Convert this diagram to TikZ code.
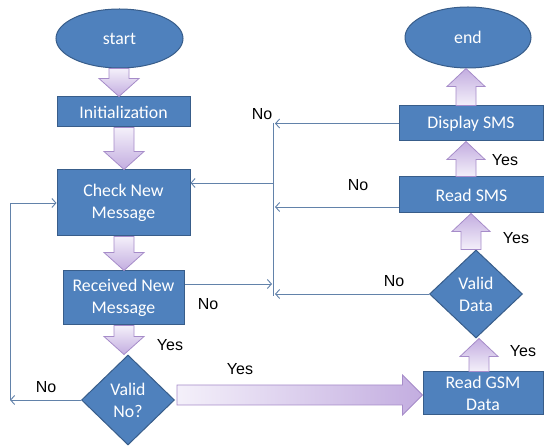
\documentclass[tikz,border=0pt]{standalone}
\usepackage{fontspec}
\setmainfont{Carlito}
\newfontfamily\labfont{Liberation Sans}
\usetikzlibrary{shapes.geometric,arrows.meta,calc}
\definecolor{boxF}{HTML}{4F81BD}
\definecolor{boxD}{HTML}{385D8A}
\definecolor{blkL}{HTML}{F4F0FA}
\definecolor{blkD}{HTML}{C3ADE0}
\definecolor{blkB}{HTML}{A68CC9}
\definecolor{lineC}{HTML}{6282AA}
\tikzset{
  box/.style={rectangle,fill=boxF,draw=boxD,line width=1pt,text=white,align=center,inner sep=0pt,
    font=\fontsize{17.8}{22}\selectfont},
  oval/.style={ellipse,fill=boxF,draw=boxD,line width=1pt,text=white,inner sep=0pt,
    font=\fontsize{17.8}{22}\selectfont},
  dia/.style={diamond,fill=boxF,draw=boxD,line width=1pt,text=white,align=center,inner sep=0pt,
    font=\fontsize{17.8}{22}\selectfont},
  blk/.style={draw=blkB,line width=0.8pt,line join=miter},
  conn/.style={draw=lineC,line width=0.9pt,-{Straight Barb[length=4pt,width=9pt]}},
  plain/.style={draw=lineC,line width=0.9pt},
  lab/.style={font=\labfont\fontsize{16}{18}\selectfont,inner sep=0pt}
}
\newcommand\dnblk[3]{%
  \shadedraw[blk,top color=blkL,bottom color=blkD] let \p1=(#2), \p2=(#3) in
   (#1-10,\y1) -- (#1+10,\y1) -- (#1+10,\y2+18pt) -- (#1+20,\y2+18pt) -- (#1,\y2)
   -- (#1-20,\y2+18pt) -- (#1-10,\y2+18pt) -- cycle;}
\newcommand\upblk[3]{%
  \shadedraw[blk,top color=blkD,bottom color=blkL] let \p1=(#2), \p2=(#3) in
   (#1-10,\y1) -- (#1+10,\y1) -- (#1+10,\y2-18pt) -- (#1+19,\y2-18pt) -- (#1,\y2)
   -- (#1-19,\y2-18pt) -- (#1-10,\y2-18pt) -- cycle;}
\begin{document}
\begin{tikzpicture}[x=1pt,y=-1pt]
\useasboundingbox (0,0) rectangle (544,446);
% nodes
\node[oval,minimum width=127pt,minimum height=59pt] (start) at (119.5,38.5) {start};
\node[box,minimum width=133pt,minimum height=30pt] (init) at (123.5,112) {Initialization};
\node[box,minimum width=133pt,minimum height=66pt] (check) at (123.5,203) {Check New\\Message};
\node[box,minimum width=121pt,minimum height=54pt] (recv) at (123.5,298) {Received New\\Message};
\node[dia,minimum width=93pt,minimum height=90pt] (vno) at (128,400) {Valid\\No?};
\node[oval,minimum width=126pt,minimum height=61pt] (end) at (468,37.5) {end};
\node[box,minimum width=144pt,minimum height=35pt] (disp) at (471,123.5) {Display SMS};
\node[box,minimum width=145pt,minimum height=36pt] (rsms) at (471.5,195) {Read SMS};
\node[dia,minimum width=93pt,minimum height=88pt] (vdata) at (476,294) {Valid\\Data};
\node[box,minimum width=120pt,minimum height=43pt] (gsm) at (483,393.5) {Read GSM\\Data};
% block arrows
\dnblk{119}{start.south}{init.north}
\dnblk{124}{init.south}{check.north}
\dnblk{124}{check.south}{recv.north}
\dnblk{124}{recv.south}{vno.north}
\upblk{479}{gsm.north}{vdata.south}
\upblk{471}{vdata.north}{rsms.south}
\upblk{466}{rsms.north}{disp.south}
\upblk{466}{disp.north}{end.south}
\shadedraw[blk,left color=blkL,right color=blkD] let \p1=(vno.east), \p2=(gsm.west) in
  (\x1+2pt,\y1-5pt) -- (\x2-20pt,\y1-5pt) -- (\x2-20pt,\y1-15pt) -- (\x2,\y1+5pt)
  -- (\x2-20pt,\y1+25pt) -- (\x2-20pt,\y1+15pt) -- (\x1+2pt,\y1+15pt) -- cycle;
% thin connectors
\coordinate (jtop) at (273,123);
\coordinate (jbot) at (273,296);
\coordinate (j1) at (275,123.5);
\coordinate (j2) at (275,207);
\coordinate (j3) at (275,294);
\coordinate (jr) at (272,284);
\coordinate (jc) at (273,183);
\coordinate (jl) at (10,400);
\draw[plain] (jtop) -- (jbot);
\draw[conn] (disp.west) -- (j1);
\draw[conn] (rsms.west |- j2) -- (j2);
\draw[conn] (vdata.west) -- (j3);
\draw[conn] (recv.east |- jr) -- (jr);
\draw[conn] (jc) -- (check.east |- jc);
\draw[conn] (vno.west) -- (jl);
\draw[conn] (jl) |- (check.west);
% labels
\node[lab] (l1) at (262,114) {No};
\node[lab] (l2) at (358,185) {No};
\node[lab] (l3) at (394,281) {No};
\node[lab] (l4) at (208,304) {No};
\node[lab] (l5) at (46,387) {No};
\node[lab] (l6) at (170,345) {Yes};
\node[lab] (l7) at (240,369) {Yes};
\node[lab] (l8) at (505,160) {Yes};
\node[lab] (l9) at (516,238) {Yes};
\node[lab] (l10) at (523,351) {Yes};
\end{tikzpicture}
\end{document}
